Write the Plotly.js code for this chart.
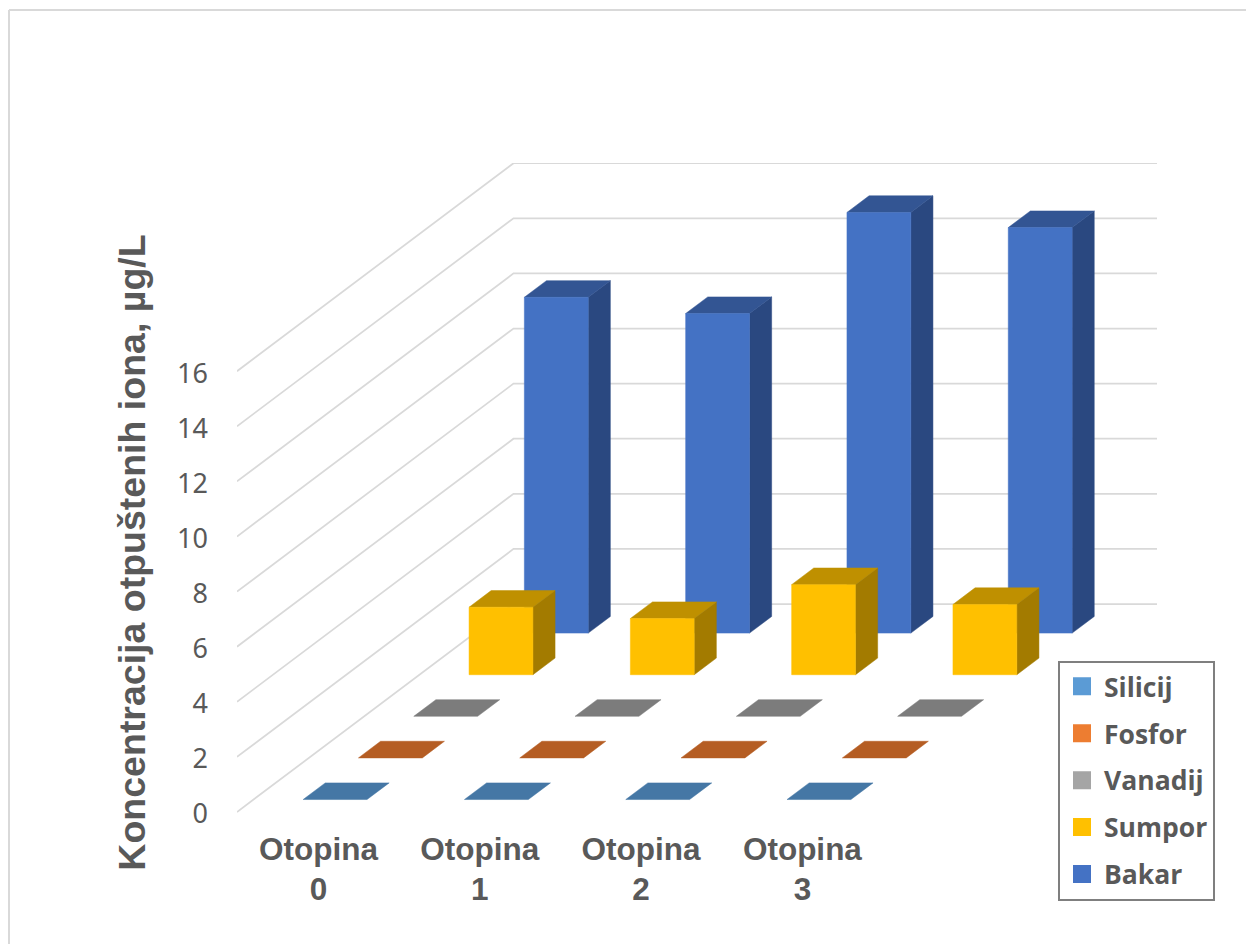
<!DOCTYPE html>
<html>
<head>
<meta charset="utf-8">
<script src="https://cdn.plot.ly/plotly-3.0.1.min.js"></script>
<style>html,body{margin:0;padding:0;background:#fff}#chart{width:1246px;height:944px}</style>
</head>
<body>
<div id="chart"></div>
<script>
const categories = ["Otopina<br>0", "Otopina<br>1", "Otopina<br>2", "Otopina<br>3"];
const seriesNames = ["Silicij", "Fosfor", "Vanadij", "Sumpor", "Bakar"];
const silicij = [0, 0, 0, 0];
const fosfor = [0, 0, 0, 0];
const vanadij = [0, 0, 0, 0];
const sumpor = [2.45, 2.04, 3.27, 2.55];
const bakar = [12.19, 11.6, 15.27, 14.72];
const yTicks = [0, 2, 4, 6, 8, 10, 12, 14, 16];

const seriesValues = [silicij, fosfor, vanadij, sumpor, bakar];
const legendColors = ["#5B9BD5", "#ED7D31", "#A5A5A5", "#FFC000", "#4472C4"];
const topColors = ["#4577A5", "#B55D23", "#7C7C7C", "#BF9000", "#335593"];
const sideColors = ["#41719C", "#A85620", "#737373", "#A37B00", "#2A4880"];

// oblique projection of the 3-D column chart onto the 2-D axes
const PXX = 161.3, PXY = 27.55;
const DX = 55.3 / PXX, DY = 41.6 / PXY;
const project = (c, d, v) => [c + d * DX, v + d * DY];

function polyTrace(polys, color, lineColor) {
  const x = [], y = [];
  polys.forEach(p => {
    p.forEach(q => { x.push(q[0]); y.push(q[1]); });
    x.push(p[0][0]); y.push(p[0][1]);
    x.push(null); y.push(null);
  });
  return {x, y, type: "scatter", mode: "lines", fill: "toself", fillcolor: color,
    line: {color: lineColor || color, width: lineColor ? 1 : 0.5}, hoverinfo: "skip",
    showlegend: false, cliponaxis: false};
}

const traces = [];
// gridlines on the left wall and the back wall
const WALL = 5, XL = -81.5 / PXX, XR = XL + 920 / PXX;
const gx = [], gy = [];
yTicks.forEach(t => {
  const b = project(XL, WALL, t);
  gx.push(XL, b[0], XR, null);
  gy.push(t, b[1], b[1], null);
});
traces.push({x: gx, y: gy, type: "scatter", mode: "lines", line: {color: "#D9D9D9", width: 1.75},
  hoverinfo: "skip", showlegend: false, cliponaxis: false});

const HW = 0.198, D0 = 0.3, D1 = 0.7;
for (let s = seriesNames.length - 1; s >= 0; s--) {
  const front = [], side = [], top = [];
  seriesValues[s].forEach((v, c) => {
    const a = s + D0, b = s + D1, l = c - HW, r = c + HW;
    top.push([project(l, a, v), project(r, a, v), project(r, b, v), project(l, b, v)]);
    if (v > 0) {
      front.push([project(l, a, 0), project(r, a, 0), project(r, a, v), project(l, a, v)]);
      side.push([project(r, a, 0), project(r, b, 0), project(r, b, v), project(r, a, v)]);
    }
  });
  if (side.length) traces.push(polyTrace(side, sideColors[s]));
  traces.push(polyTrace(top, topColors[s]));
  if (front.length) traces.push(polyTrace(front, legendColors[s]));
}
// legend entries
seriesNames.forEach((n, i) => traces.push({
  x: [null], y: [null], type: "scatter", mode: "markers", name: n, legendgroup: n,
  marker: {symbol: "square", size: 16, color: legendColors[i], line: {color: legendColors[i], width: 2}}
}));

const yLow = -130 / PXY;
const layout = {
  width: 1246, height: 944, autosize: false,
  paper_bgcolor: "#fff", plot_bgcolor: "rgba(0,0,0,0)",
  margin: {l: 237, r: 89, t: 163, b: 2, pad: 0, autoexpand: false},
  showlegend: true,
  xaxis: {
    range: [XL, XR], tickmode: "array", tickvals: [0, 1, 2, 3], ticktext: categories,
    showgrid: false, zeroline: false, showline: false, ticks: "",
    anchor: "free", position: 130 / 779, ticklabelstandoff: 15,
    tickfont: {family: "Liberation Sans", size: 31.5, color: "#595959", weight: 700}
  },
  yaxis: {
    range: [yLow, yLow + 779 / PXY], tickmode: "array", tickvals: yTicks,
    showgrid: false, zeroline: false, showline: false, ticks: "", ticklabelstandoff: 28, ticklabelshift: 2,
    tickfont: {family: "Noto Sans", size: 27, color: "#595959"},
    title: {text: "Koncentracija otpuštenih iona, µg/L", standoff: 19,
      font: {family: "Liberation Sans", size: 37.5, color: "#595959", weight: 700}}
  },
  legend: {
    x: (1058 - 237) / 920, y: 1 - (660.5 - 163) / 779, yanchor: "top", xanchor: "left",
    traceorder: "grouped", tracegroupgap: 9.5, bordercolor: "#7F7F7F", borderwidth: 2, bgcolor: "#fff",
    itemwidth: 34, entrywidth: 105, entrywidthmode: "pixels",
    font: {family: "Open Sans", size: 26.5, color: "#595959", weight: 700}, itemsizing: "trace"
  },
  shapes: [
    {type: "line", xref: "paper", yref: "paper", x0: -228 / 920, x1: 1009 / 920, y0: 1 + 153 / 779, y1: 1 + 153 / 779, line: {color: "#D9D9D9", width: 2}},
    {type: "line", xref: "paper", yref: "paper", x0: -228 / 920, x1: -228 / 920, y0: 1 + 153 / 779, y1: -2 / 779, line: {color: "#D9D9D9", width: 2}}
  ]
};
Plotly.newPlot("chart", traces, layout, {displayModeBar: false, staticPlot: true});
</script>
</body>
</html>
